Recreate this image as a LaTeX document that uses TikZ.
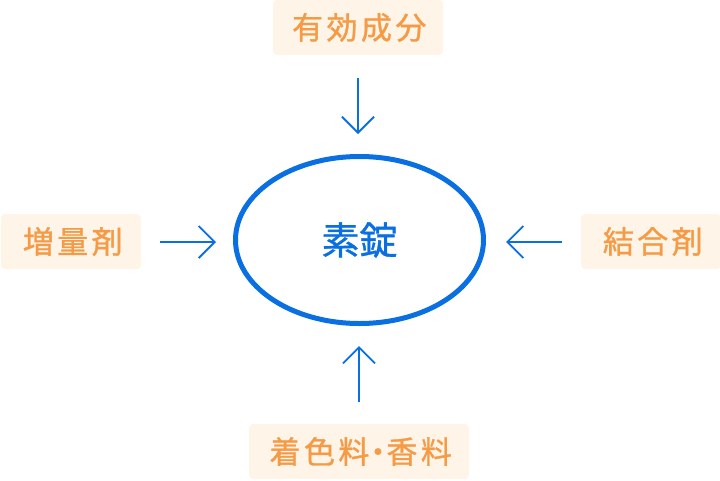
\documentclass[tikz,border=0pt]{standalone}
\usepackage{fontspec}
\newfontfamily\cjk[FakeBold=1]{Noto Sans CJK JP}
\newfontfamily\cjklab[FakeBold=1,LetterSpace=11]{Noto Sans CJK JP}
\usetikzlibrary{arrows.meta,shapes.geometric}
\definecolor{tabblue}{HTML}{0A6FE0}
\definecolor{laborange}{HTML}{F59A45}
\definecolor{labfill}{HTML}{FFF4E8}
\tikzset{
  lab/.style={fill=labfill, rounded corners=4pt, text=laborange, inner sep=0pt,
    font=\cjklab\fontsize{31}{31}\selectfont, anchor=center},
  feed/.style={draw=tabblue, line width=1.8pt,
    -{Straight Barb[length=16pt,width=32pt,line width=1.8pt]}},
}
\begin{document}
\begin{tikzpicture}[x=1pt,y=-1pt]
\useasboundingbox (0,0) rectangle (720,480);
\node[draw=tabblue, line width=5pt, ellipse, minimum width=248pt, minimum height=167pt, inner sep=0pt,
  text=tabblue, font=\cjk\fontsize{38}{38}\selectfont] (tab) at (359.5,240) {素錠};
\node[lab, minimum width=170pt, minimum height=55pt] (top) at (358,27.5) {\hspace*{2.5pt}有効成分};
\node[lab, minimum width=140pt, minimum height=55pt] (left) at (71,241.5) {\hspace*{3.5pt}増量剤};
\node[lab, minimum width=140pt, minimum height=55pt] (right) at (651,241.5) {\hspace*{3.5pt}結合剤};
\node[lab, minimum width=220pt, minimum height=55pt] (bot) at (359,451.5) {\hspace*{3.5pt}着色料\makebox[17pt][c]{・}香料};
\coordinate (t1) at (358,78);  \coordinate (t2) at (358,134);
\coordinate (l1) at (160,242); \coordinate (l2) at (216,242);
\coordinate (r1) at (562,242); \coordinate (r2) at (506,242);
\coordinate (b1) at (359,402); \coordinate (b2) at (359,346);
\draw[feed] (t1) -- (t2);
\draw[feed] (l1) -- (l2);
\draw[feed] (r1) -- (r2);
\draw[feed] (b1) -- (b2);
\end{tikzpicture}
\end{document}
